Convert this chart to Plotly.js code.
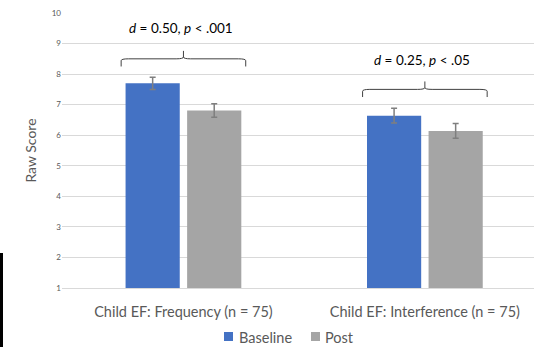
<!DOCTYPE html>
<html>
<head>
<meta charset="utf-8">
<script src="https://cdn.plot.ly/plotly-3.0.1.min.js"></script>
<style>
html,body{margin:0;padding:0;background:#fff;overflow:hidden;}
#chart{width:534px;height:347px;}
#blk{position:absolute;left:0;top:253px;width:3px;height:94px;background:#000;}
</style>
</head>
<body>
<div id="chart"></div>
<div id="blk"></div>
<script>
const categories = ["Child EF: Frequency (n = 75)", "Child EF: Interference (n = 75)"];
const seriesNames = ["Baseline", "Post"];
const seriesColors = ["#4472C4", "#A5A5A5"];
const baseline = [7.7, 6.64];
const baselineErr = [0.2, 0.24];
const post = [6.81, 6.14];
const postErr = [0.22, 0.24];
const yTicks = [1,2,3,4,5,6,7,8,9,10];
const statLabels = ["<i>d</i> = 0.50, <i>p</i> < .001", "<i>d</i> = 0.25, <i>p</i> < .05"];
const bracketLevel = [8.5, 7.5];
const labelLevel = [9.5, 8.45];

const font = "Lato, 'Open Sans', sans-serif";

const traces = [
  {type:'bar', name:seriesNames[0], x:categories, y:baseline,
   marker:{color:seriesColors[0]},
   error_y:{type:'data', array:baselineErr, visible:true, color:'#7f7f7f', thickness:1.5, width:3}},
  {type:'bar', name:seriesNames[1], x:categories, y:post,
   marker:{color:seriesColors[1]},
   error_y:{type:'data', array:postErr, visible:true, color:'#7f7f7f', thickness:1.5, width:3}}
];

const shapes = [];
const annotations = [];
const halfW = 0.258, drop = 0.25, tick = 0.26, r = 0.03;
categories.forEach((c, i) => {
  const yl = bracketLevel[i];
  const x0 = i - halfW, x1 = i + halfW;
  const path = `M ${x0} ${yl - drop} L ${x0} ${yl - 0.06} Q ${x0} ${yl} ${x0 + r} ${yl} ` +
               `L ${i - r} ${yl} Q ${i} ${yl} ${i} ${yl + 0.06} L ${i} ${yl + tick} ` +
               `M ${i} ${yl + 0.06} Q ${i} ${yl} ${i + r} ${yl} L ${x1 - r} ${yl} ` +
               `Q ${x1} ${yl} ${x1} ${yl - 0.06} L ${x1} ${yl - drop}`;
  shapes.push({type:'path', xref:'x', yref:'y', path:path, line:{color:'#404040', width:1}});
  annotations.push({x:i - 0.01, y:labelLevel[i], xref:'x', yref:'y', text:statLabels[i],
    showarrow:false, font:{family:font, size:13.5, color:'#000'}});
});

// manual legend (paper coords, plot area spans x 62..534, y 13..288)
const W = 472, H = 275;
const legendItems = [{x0:224, tx:237}, {x0:311, tx:323}];
legendItems.forEach((it, k) => {
  shapes.push({type:'rect', xref:'paper', yref:'paper',
    x0:(it.x0 - 62)/W, x1:(it.x0 + 9 - 62)/W,
    y0:(288 - 341)/H, y1:(288 - 332)/H,
    fillcolor:seriesColors[k], line:{width:0}});
  annotations.push({xref:'paper', yref:'paper', x:(it.tx - 62)/W, y:(288 - 337)/H,
    xanchor:'left', yanchor:'middle', text:seriesNames[k], showarrow:false,
    font:{family:font, size:14.5, color:'#595959'}});
});

const layout = {
  width:534, height:347,
  margin:{l:62, r:0, t:13, b:59, autoexpand:false},
  paper_bgcolor:'#fff', plot_bgcolor:'#fff',
  font:{family:font, color:'#595959'},
  barmode:'group', bargap:0.49, bargroupgap:0.12,
  showlegend:false,
  xaxis:{type:'category', range:[-0.503, 1.452], showgrid:false, zeroline:false,
         showline:true, linecolor:'#d9d9d9', linewidth:1, ticks:'', automargin:false,
         ticklabelstandoff:11,
         tickfont:{size:14.5, color:'#595959'}},
  yaxis:{range:[1,10], tickvals:yTicks, showgrid:true, gridcolor:'#d9d9d9', gridwidth:1,
         zeroline:false, showline:false, ticks:'', ticklen:0, automargin:false,
         tickfont:{size:8, color:'#595959'},
         title:{text:'Raw Score', font:{size:14, color:'#595959'}, standoff:11}},
  shapes:shapes,
  annotations:annotations
};

Plotly.newPlot('chart', traces, layout, {displayModeBar:false, staticPlot:true});
</script>
</body>
</html>
